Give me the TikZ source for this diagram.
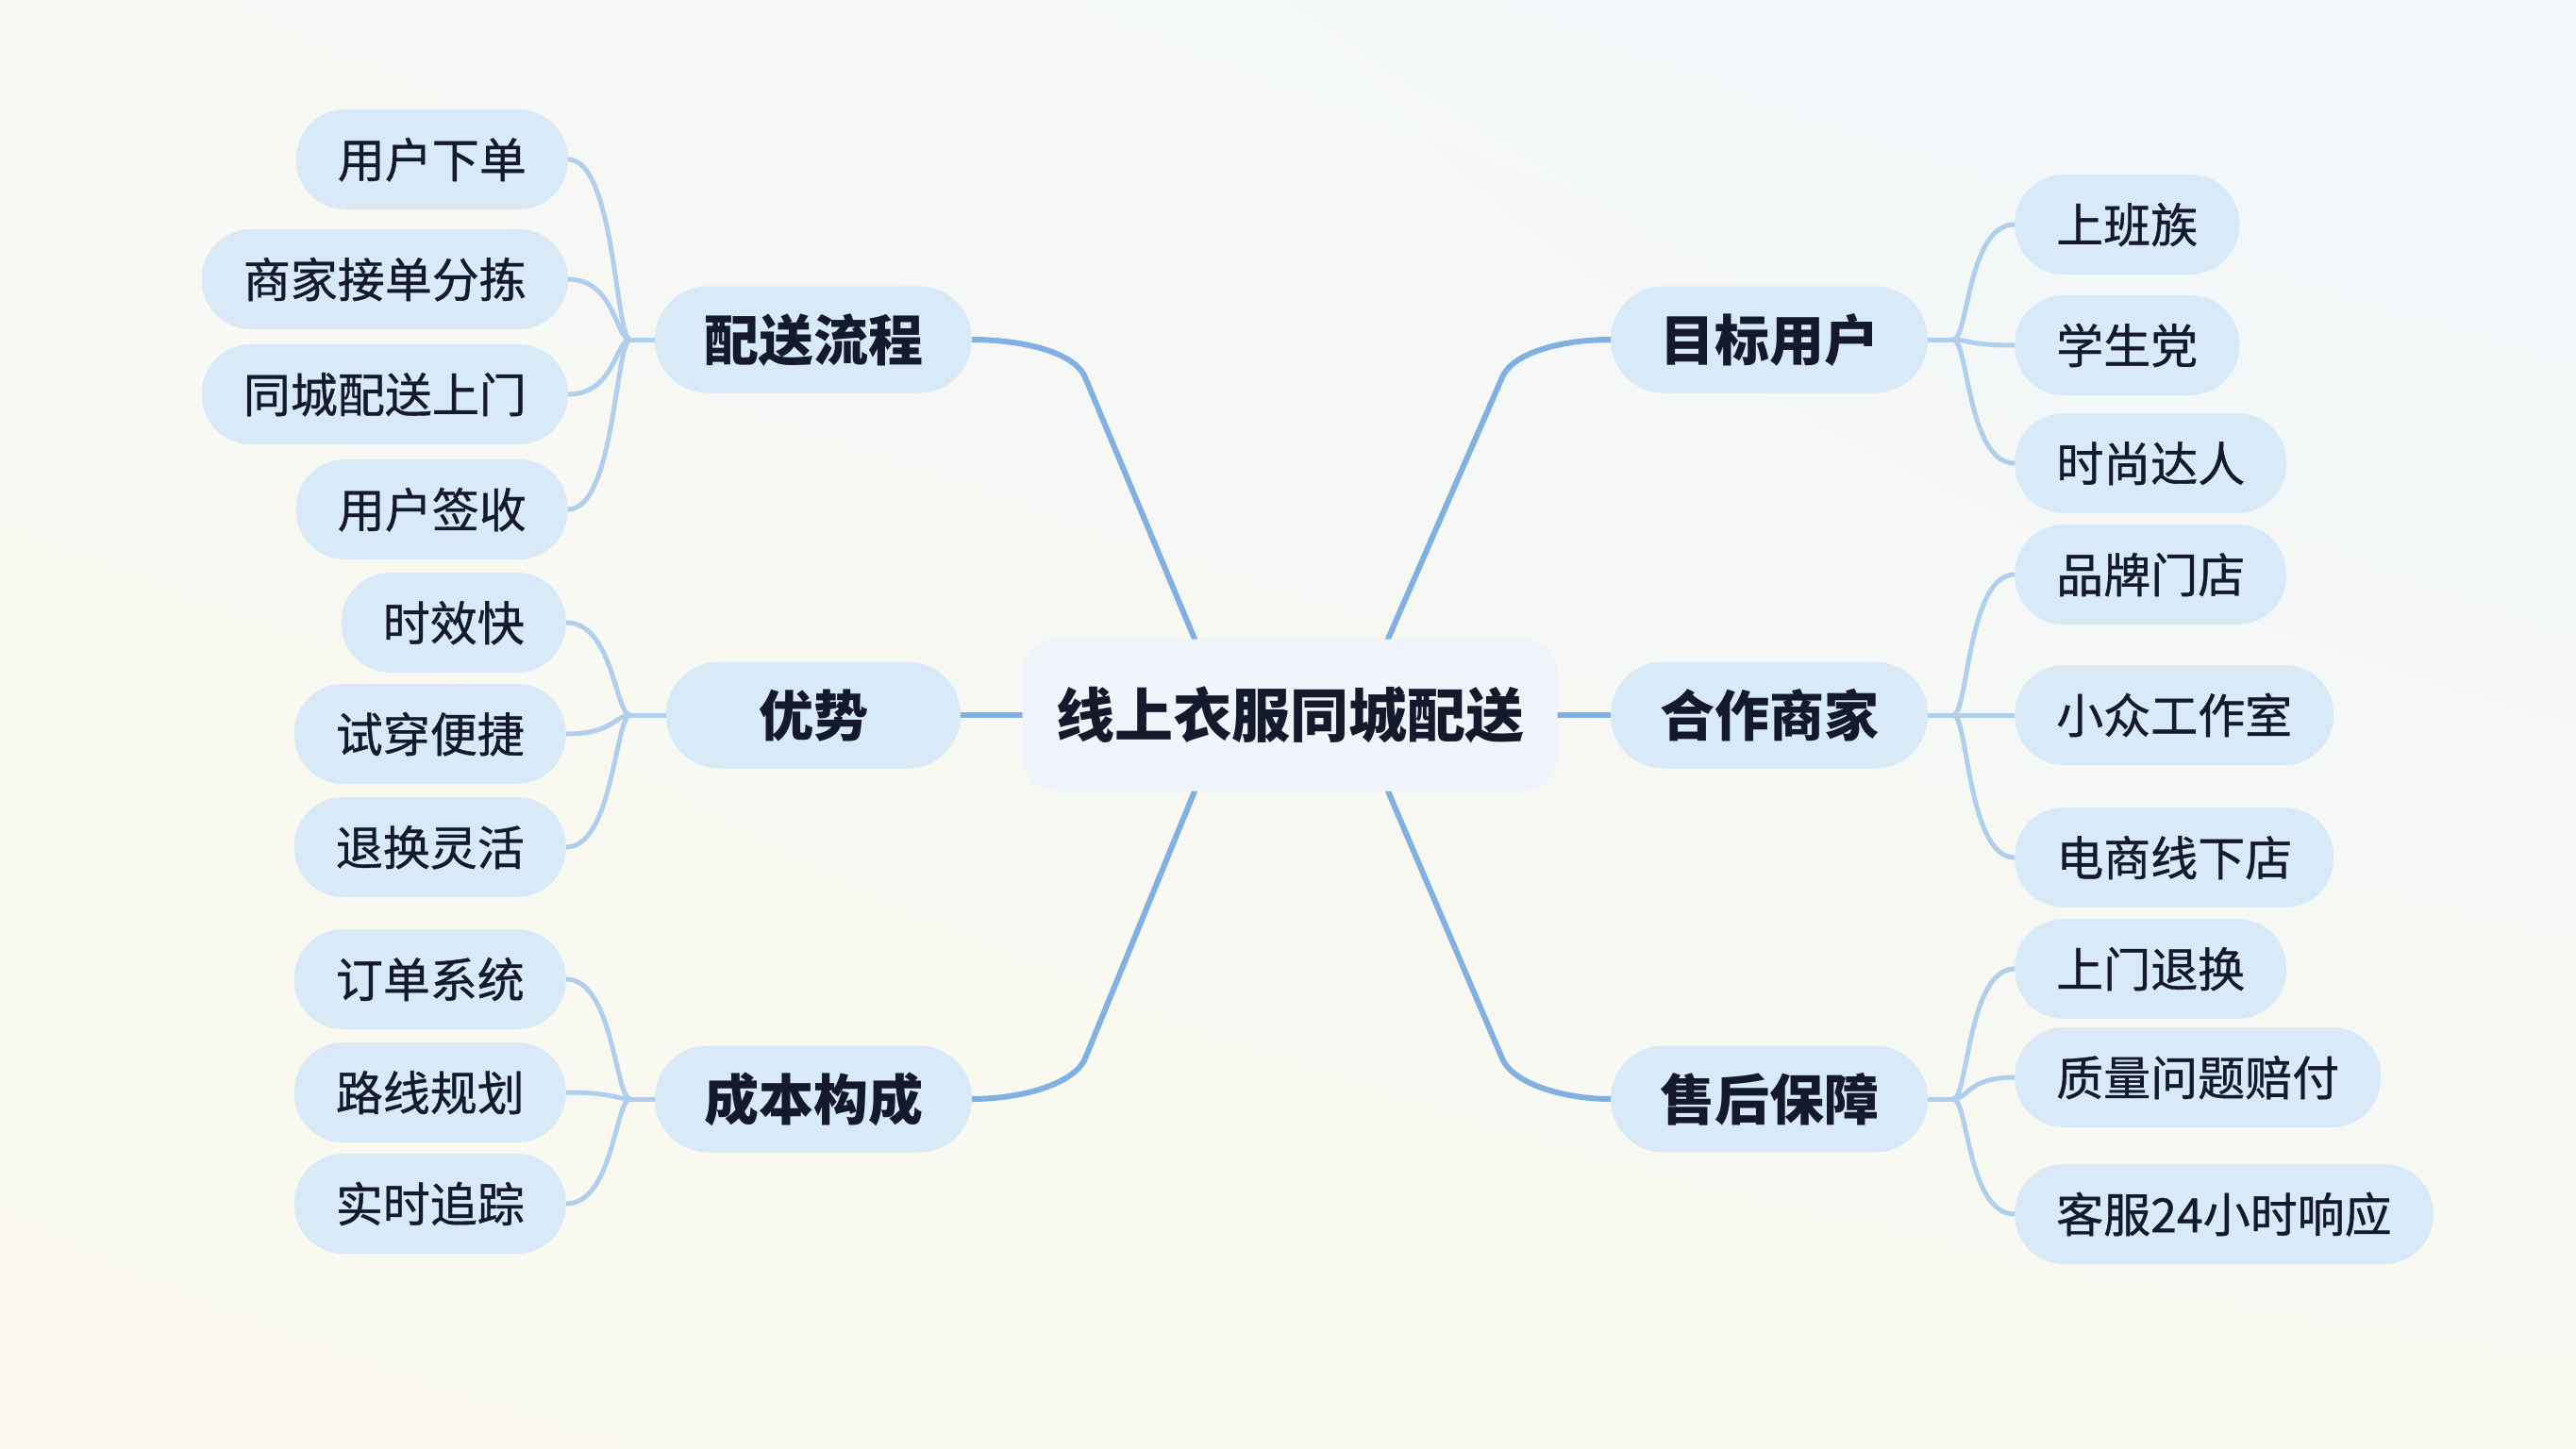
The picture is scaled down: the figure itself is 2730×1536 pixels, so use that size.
\documentclass[tikz,border=0pt]{standalone}
\usepackage{fontspec}
\newfontfamily\cjk{Noto Sans CJK SC}
\newfontfamily\cjkleaf[FakeBold=0.8]{Noto Sans CJK SC}
\usetikzlibrary{calc,shadings}
\pgfdeclarelayer{bglayer}
\pgfdeclarelayer{lines}
\pgfsetlayers{bglayer,lines,main}
\definecolor{bgUL}{HTML}{F8F9F5}
\definecolor{bgUR}{HTML}{F1F6FB}
\definecolor{bgLL}{HTML}{FBF9EE}
\definecolor{bgLR}{HTML}{F9F9F1}
\definecolor{nodefill}{HTML}{D8E9F7}
\definecolor{centerfill}{HTML}{EEF4FA}
\definecolor{mainline}{HTML}{80B1E2}
\definecolor{leafline}{HTML}{B0CFEC}
\definecolor{ink}{HTML}{141A2B}
\tikzset{
  leaf/.style={rounded corners=52pt, fill=nodefill, draw=none, minimum height=106pt,
    inner xsep=44pt, inner ysep=0pt, text=ink, text height=43pt, text depth=4.6pt,
    font=\cjkleaf\fontsize{50}{50}\selectfont},
  branch/.style={rounded corners=56pt, fill=nodefill, draw=none, minimum height=113pt,
    minimum width=312pt, inner xsep=52pt, inner ysep=0pt, text=ink, text height=49.5pt, text depth=5.3pt,
    font=\cjk\bfseries\fontsize{58}{58}\selectfont},
  root/.style={rounded corners=36pt, fill=centerfill, draw=none, minimum height=161pt,
    minimum width=567pt, text=ink, text height=53pt, text depth=5.6pt,
    font=\cjk\bfseries\fontsize{62}{62}\selectfont},
  mainconn/.style={draw=mainline, line width=6pt, line cap=round},
  leafconn/.style={draw=leafline, line width=5pt, line cap=round},
}
\begin{document}
\begin{tikzpicture}[x=1pt,y=-1pt]
\useasboundingbox (0,0) rectangle (2730,1536);
\begin{pgfonlayer}{bglayer}
\shade[upper left=bgUL, upper right=bgUR, lower left=bgLL, lower right=bgLR] (0,0) rectangle (2730,1536);
\end{pgfonlayer}

% root
\node[root] (c) at (1367,758) {线上衣服同城配送};

% branches
\node[branch] (a1) at (862,360) {配送流程};
\node[branch] (a2) at (862,758) {优势};
\node[branch] (a3) at (862,1165) {成本构成};
\node[branch] (b1) at (1875,360) {目标用户};
\node[branch] (b2) at (1875,758) {合作商家};
\node[branch] (b3) at (1875,1165) {售后保障};

% left leaves
\node[leaf, anchor=east] (a11) at (602,169) {用户下单};
\node[leaf, anchor=east] (a12) at (602,296) {商家接单分拣};
\node[leaf, anchor=east] (a13) at (602,418) {同城配送上门};
\node[leaf, anchor=east] (a14) at (602,540) {用户签收};
\node[leaf, anchor=east] (a21) at (600,660) {时效快};
\node[leaf, anchor=east] (a22) at (600,778) {试穿便捷};
\node[leaf, anchor=east] (a23) at (600,898) {退换灵活};
\node[leaf, anchor=east] (a31) at (600,1038) {订单系统};
\node[leaf, anchor=east] (a32) at (600,1158) {路线规划};
\node[leaf, anchor=east] (a33) at (600,1276) {实时追踪};

% right leaves
\node[leaf, anchor=west] (b11) at (2135,238) {上班族};
\node[leaf, anchor=west] (b12) at (2135,366) {学生党};
\node[leaf, anchor=west] (b13) at (2135,491) {时尚达人};
\node[leaf, anchor=west] (b21) at (2135,609) {品牌门店};
\node[leaf, anchor=west] (b22) at (2135,758) {小众工作室};
\node[leaf, anchor=west] (b23) at (2135,909) {电商线下店};
\node[leaf, anchor=west] (b31) at (2135,1027) {上门退换};
\node[leaf, anchor=west] (b32) at (2135,1142) {质量问题赔付};
\node[leaf, anchor=west] (b33) at (2135,1287) {客服24小时响应};

% junctions and bends
\coordinate (ja1) at (668,360);
\coordinate (ja2) at (668,758);
\coordinate (ja3) at (668,1165);
\coordinate (jb1) at (2070,360);
\coordinate (jb2) at (2070,758);
\coordinate (jb3) at (2070,1165);
\coordinate (k1) at (1150,400);
\coordinate (k2) at (1592,400);
\coordinate (k3) at (1150,1122);
\coordinate (k4) at (1592,1122);

\begin{pgfonlayer}{lines}
% main connectors
\draw[mainconn] ([xshift=-101pt]c.north) -- (k1) .. controls (1138,372) and (1080,360) .. (a1.east);
\draw[mainconn] ([xshift=104pt]c.north) -- (k2) .. controls (1604,372) and (1660,360) .. (b1.west);
\draw[mainconn] ([xshift=-101pt]c.south) -- (k3) .. controls (1138,1150) and (1080,1165) .. (a3.east);
\draw[mainconn] ([xshift=104pt]c.south) -- (k4) .. controls (1604,1150) and (1660,1165) .. (b3.west);
\draw[mainconn] (c.west) -- (a2.east);
\draw[mainconn] (c.east) -- (b2.west);

% leaf connectors left
\draw[leafconn] (a1.west) -- (ja1);
\draw[leafconn] (a2.west) -- (ja2);
\draw[leafconn] (a3.west) -- (ja3);
\foreach \l/\j in {a11/ja1,a12/ja1,a13/ja1,a14/ja1,a21/ja2,a22/ja2,a23/ja2,a31/ja3,a32/ja3,a33/ja3}
  \draw[leafconn] (\l.east) .. controls +(50,0) and +(-16,0) .. (\j);
% leaf connectors right
\draw[leafconn] (b1.east) -- (jb1);
\draw[leafconn] (b2.east) -- (jb2);
\draw[leafconn] (b3.east) -- (jb3);
\foreach \l/\j in {b11/jb1,b12/jb1,b13/jb1,b21/jb2,b22/jb2,b23/jb2,b31/jb3,b32/jb3,b33/jb3}
  \draw[leafconn] (\j) .. controls +(16,0) and +(-50,0) .. (\l.west);
\end{pgfonlayer}
\end{tikzpicture}
\end{document}
